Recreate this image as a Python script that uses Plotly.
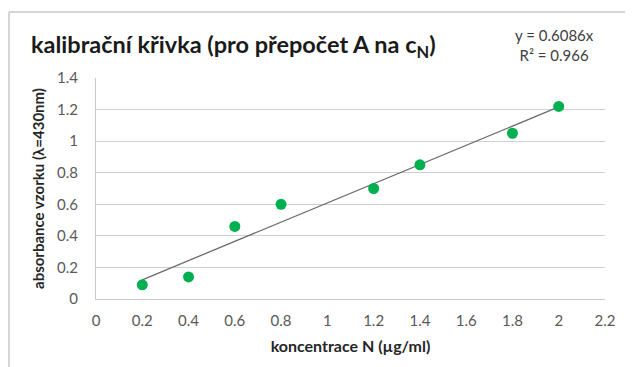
import plotly.graph_objects as go

conc = [0.2, 0.4, 0.6, 0.8, 1.2, 1.4, 1.8, 2.0]
absorb = [0.09, 0.14, 0.46, 0.60, 0.70, 0.85, 1.05, 1.22]
slope = 0.6086
r2 = 0.966
x_ticks = [0, 0.2, 0.4, 0.6, 0.8, 1, 1.2, 1.4, 1.6, 1.8, 2, 2.2]
y_ticks = [0, 0.2, 0.4, 0.6, 0.8, 1, 1.2, 1.4]

trend_x = [min(conc), max(conc)]
trend_y = [slope * v for v in trend_x]

FONT = "Lato, 'Open Sans', sans-serif"
OFF = 8  # default page body margin
L, R, T, B = 96, 605, 78, 299  # plot area in page pixels
W, H = R - L, B - T

fig = go.Figure()
fig.add_trace(go.Scatter(x=trend_x, y=trend_y, mode="lines",
                         line=dict(color="#6b6b6b", width=1.3), hoverinfo="skip"))
fig.add_trace(go.Scatter(x=conc, y=absorb, mode="markers",
                         marker=dict(color="#00B050", size=11)))

fig.update_layout(
    width=633, height=367,
    margin=dict(l=L - OFF, r=633 + OFF - R, t=T - OFF, b=367 + OFF - B),
    paper_bgcolor="white", plot_bgcolor="white",
    showlegend=False,
    font=dict(family=FONT, color="#595959"),
    xaxis=dict(range=[0, 2.2], tickvals=x_ticks, ticktext=[f"{v:g}" for v in x_ticks],
               showgrid=False, zeroline=False, showline=True, linecolor="#c8c8c8", linewidth=1,
               ticks="outside", ticklen=8, tickcolor="rgba(0,0,0,0)", automargin=False,
               tickfont=dict(size=15, color="#595959"),
               title=dict(text="<b>koncentrace N (µg/ml)</b>", font=dict(size=16, color="#262626"), standoff=12)),
    yaxis=dict(range=[0, 1.4], tickvals=y_ticks, ticktext=[f"{v:g}" for v in y_ticks],
               showgrid=True, gridcolor="#d0d0d0", gridwidth=1, zeroline=False,
               showline=True, linecolor="#c8c8c8", linewidth=1, automargin=False,
               ticks="outside", ticklen=14, tickcolor="rgba(0,0,0,0)",
               tickfont=dict(size=15, color="#595959"),
               title=dict(text="<b>absorbance vzorku (λ=430nm)</b>", font=dict(size=15, color="#262626"), standoff=8)),
    annotations=[
        dict(text="<b>kalibrační křivka (pro přepočet A na c<sub>N</sub>)</b>", xref="paper", yref="paper",
             x=(29 - L) / W, y=(B - 46) / H, xanchor="left", yanchor="middle", showarrow=False,
             font=dict(size=23.5, color="#1a1a1a", family=FONT)),
        dict(text=f"y = {slope}x<br>R² = {r2}", xref="paper", yref="paper",
             x=(554 - L) / W, y=(B - 45) / H, xanchor="center", yanchor="middle", showarrow=False,
             align="center", font=dict(size=15, color="#404040", family=FONT)),
    ],
    shapes=[
        dict(type="line", xref="paper", yref="paper", x0=(9 - L) / W, x1=1.2,
             y0=(B - 12) / H, y1=(B - 12) / H, line=dict(color="#c8c8c8", width=1.5)),
        dict(type="line", xref="paper", yref="paper", x0=(9 - L) / W, x1=(9 - L) / W,
             y0=(B - 12) / H, y1=-0.5, line=dict(color="#c8c8c8", width=1.5)),
    ],
)

fig.write_html("out.html")
